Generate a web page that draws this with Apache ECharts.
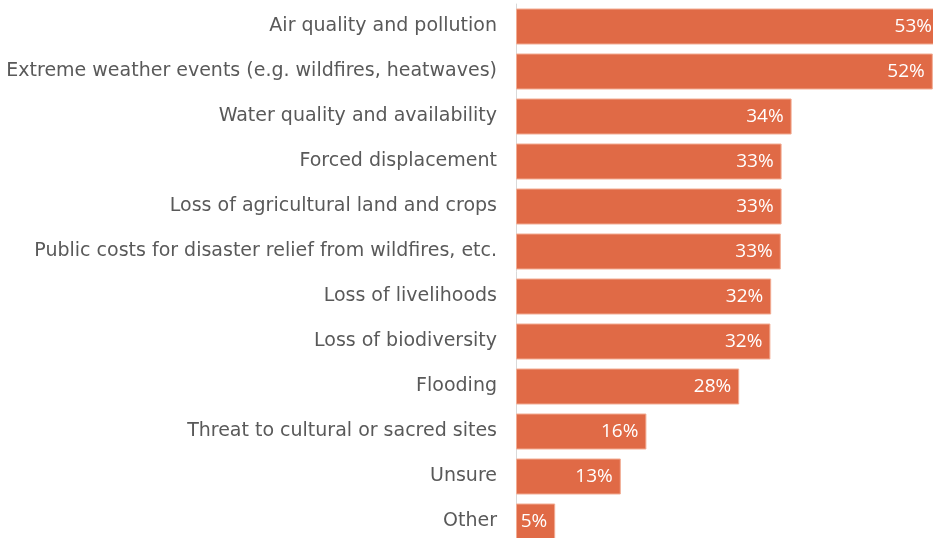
<!DOCTYPE html>
<html>
<head>
<meta charset="utf-8">
<script src="https://cdn.jsdelivr.net/npm/echarts@6/dist/echarts.min.js"></script>
<style>
html,body{margin:0;padding:0;background:#fff;}
#chart{width:933px;height:538px;}
</style>
</head>
<body>
<div id="chart"></div>
<script>
const categories = [
  "Air quality and pollution",
  "Extreme weather events (e.g. wildfires, heatwaves)",
  "Water quality and availability",
  "Forced displacement",
  "Loss of agricultural land and crops",
  "Public costs for disaster relief from wildfires, etc.",
  "Loss of livelihoods",
  "Loss of biodiversity",
  "Flooding",
  "Threat to cultural or sacred sites",
  "Unsure",
  "Other"
];
const values = [53.0, 52.1, 34.45, 33.2, 33.2, 33.1, 31.9, 31.8, 27.9, 16.3, 13.1, 4.9];
const valueLabels = ["53%", "52%", "34%", "33%", "33%", "33%", "32%", "32%", "28%", "16%", "13%", "5%"];

const chart = echarts.init(document.getElementById('chart'), null, {renderer: 'canvas'});
chart.setOption({
  animation: false,
  backgroundColor: '#ffffff',
  grid: {left: 516, top: 4, width: 480, height: 540, containLabel: false, outerBoundsMode: 'none'},
  xAxis: {
    type: 'value', min: 0, max: 60,
    axisLine: {show: false}, axisTick: {show: false},
    axisLabel: {show: false}, splitLine: {show: false}
  },
  yAxis: {
    type: 'category', inverse: true, data: categories,
    axisLine: {show: true, lineStyle: {color: '#d9d9d9', width: 1}},
    axisTick: {show: false},
    axisLabel: {
      color: '#595959', fontSize: 19, margin: 19,
      fontFamily: 'DejaVu Sans'
    }
  },
  series: [{
    type: 'bar',
    data: values,
    barCategoryGap: '20%',
    clip: false,
    itemStyle: {color: '#E06A46', borderColor: '#F2AC93', borderWidth: 1},
    label: {
      show: true, position: 'insideRight', distance: 8,
      color: '#ffffff', fontSize: 19, fontFamily: 'Open Sans',
      formatter: p => valueLabels[p.dataIndex]
    }
  }]
});
</script>
</body>
</html>
